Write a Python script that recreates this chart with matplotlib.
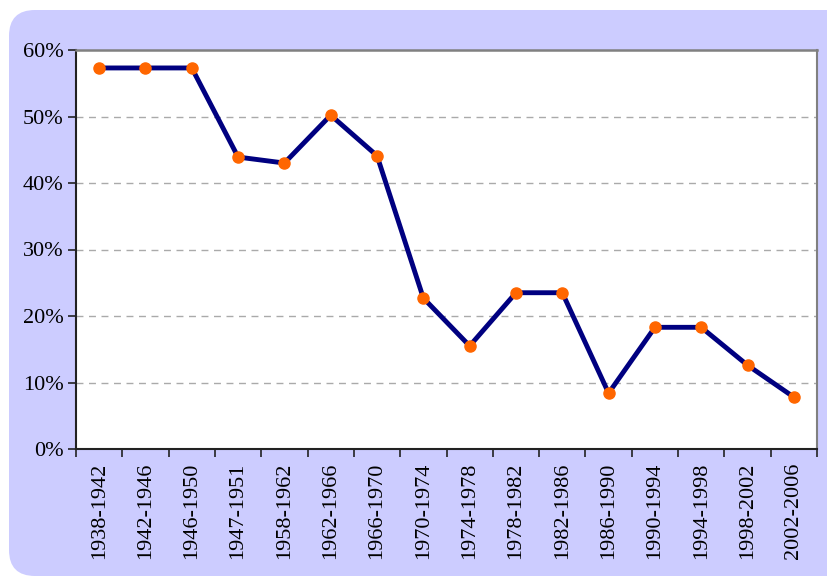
import matplotlib
matplotlib.use("Agg")
import matplotlib.pyplot as plt
from matplotlib.patches import FancyBboxPatch
from matplotlib.ticker import FuncFormatter

# Periods and share values (percent)
periods = ["1938-1942", "1942-1946", "1946-1950", "1947-1951", "1958-1962",
           "1962-1966", "1966-1970", "1970-1974", "1974-1978", "1978-1982",
           "1982-1986", "1986-1990", "1990-1994", "1994-1998", "1998-2002",
           "2002-2006"]
shares = [57.3, 57.3, 57.3, 43.9, 43.0, 50.2, 44.1, 22.7, 15.5, 23.5,
          23.5, 8.4, 18.3, 18.3, 12.6, 7.8]
yticks = [0, 10, 20, 30, 40, 50, 60]

plt.rcParams['font.family'] = ['Liberation Serif', 'DejaVu Serif']

fig = plt.figure(figsize=(8.27, 5.77), dpi=100)
fig.patch.set_facecolor("white")

# Lavender rounded background (pixel coordinates)
bg = FancyBboxPatch((9, 1), 850, 566, boxstyle="round,pad=0,rounding_size=26",
                    transform=None, facecolor="#CCCCFF", edgecolor="none",
                    zorder=-10)
fig.patches.append(bg)

ax = fig.add_axes([76 / 827, 1 - 449 / 577, 741 / 827, 399 / 577])
ax.set_zorder(1)
ax.set_facecolor("white")

x = list(range(len(periods)))
ax.plot(x, shares, color="#000080", linewidth=3.5, zorder=3)
ax.plot(x, shares, linestyle="none", marker="o", markersize=8,
        markerfacecolor="#FF6600", markeredgecolor="#FF6600", zorder=4)

ax.set_xlim(-0.5, len(periods) - 0.5)
ax.set_ylim(0, 60)
ax.set_yticks(yticks)
ax.yaxis.set_major_formatter(FuncFormatter(lambda v, p: f"{v:.0f}%"))

# ticks sit between categories, labels centred under the points
ax.set_xticks([i - 0.5 for i in range(len(periods) + 1)])
ax.set_xticklabels([])
ax.set_xticks(x, minor=True)
ax.set_xticklabels(periods, minor=True, rotation=90)
ax.tick_params(axis="x", which="minor", length=0, pad=10, labelsize=16)
ax.tick_params(axis="x", which="major", length=6, width=1.2, color="#222222")
ax.tick_params(axis="y", length=6, width=1.2, color="#222222", labelsize=16, pad=3)

for v in yticks[1:-1]:
    ax.axhline(v, color="#AAAAAA", linestyle=(0, (5, 4)), linewidth=1, zorder=1)

ax.spines["left"].set_color("#222222")
ax.spines["bottom"].set_color("#222222")
ax.spines["left"].set_linewidth(1.5)
ax.spines["bottom"].set_linewidth(1.5)
ax.spines["top"].set_color("#808080")
ax.spines["right"].set_color("#808080")
ax.spines["top"].set_linewidth(1.8)
ax.spines["right"].set_linewidth(1.5)

fig.savefig("out.png", dpi=100, facecolor="white")
